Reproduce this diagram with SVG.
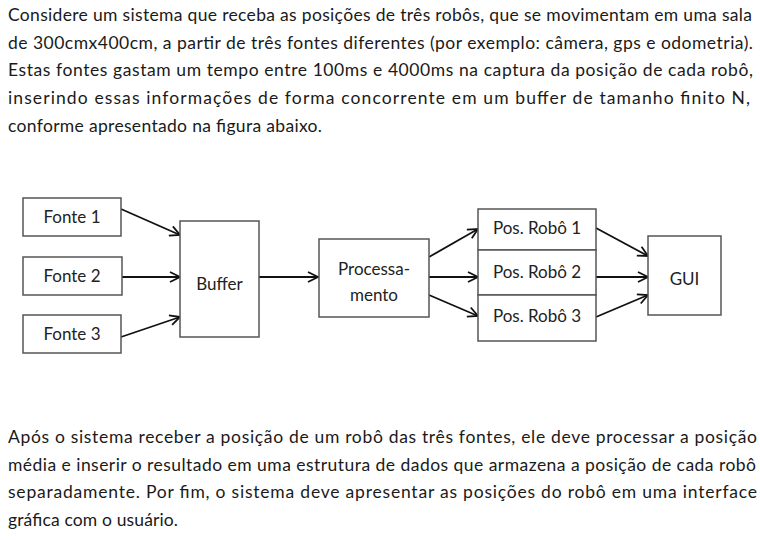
<svg xmlns="http://www.w3.org/2000/svg" width="760" height="540" viewBox="0 0 760 540">
<defs>
<style>
.p{font-family:Lato,"Open Sans","Liberation Sans",sans-serif;font-size:17.5px;fill:#1a1a1a}
.lbl{font-family:Lato,"Open Sans","Liberation Sans",sans-serif;font-size:17px;fill:#222;text-anchor:middle}
.box{fill:#fff;stroke:#555;stroke-width:1.5}
.cn{stroke:#111;stroke-width:1.8;fill:none;marker-end:url(#ah)}
</style>
<marker id="ah" viewBox="0 0 12 12" refX="11" refY="6" markerWidth="12" markerHeight="12" markerUnits="userSpaceOnUse" orient="auto">
<path d="M1,1 L11,6 L1,11" fill="none" stroke="#111" stroke-width="1.8"/>
</marker>
</defs>
<rect width="760" height="540" fill="#fff"/>
<g id="text-top">
<text class="p" x="8" y="21" textLength="744" lengthAdjust="spacing">Considere um sistema que receba as posições de três robôs, que se movimentam em uma sala</text>
<text class="p" x="8" y="49" textLength="745" lengthAdjust="spacing">de 300cmx400cm, a partir de três fontes diferentes (por exemplo: câmera, gps e odometria).</text>
<text class="p" x="8" y="76" textLength="745" lengthAdjust="spacing">Estas fontes gastam um tempo entre 100ms e 4000ms na captura da posição de cada robô,</text>
<text class="p" x="8" y="104" textLength="742" lengthAdjust="spacing">inserindo essas informações de forma concorrente em um buffer de tamanho finito N,</text>
<text class="p" x="8" y="132" textLength="314" lengthAdjust="spacing">conforme apresentado na figura abaixo.</text>
</g>
<g id="connectors">
<line class="cn" x1="121" y1="209" x2="180" y2="235"/>
<line class="cn" x1="122" y1="277" x2="180" y2="277"/>
<line class="cn" x1="121" y1="337" x2="180" y2="317"/>
<line class="cn" x1="259" y1="277" x2="318" y2="277"/>
<line class="cn" x1="429" y1="257" x2="478" y2="229"/>
<line class="cn" x1="429" y1="277" x2="478" y2="277"/>
<line class="cn" x1="429" y1="295" x2="478" y2="316"/>
<line class="cn" x1="596" y1="228" x2="648" y2="256"/>
<line class="cn" x1="596" y1="277" x2="648" y2="277"/>
<line class="cn" x1="596" y1="317" x2="648" y2="295"/>
</g>
<g id="fonte1"><rect class="box" x="23" y="198" width="98" height="38"/><text class="lbl" x="72" y="223">Fonte 1</text></g>
<g id="fonte2"><rect class="box" x="23" y="257" width="99" height="38"/><text class="lbl" x="72" y="282">Fonte 2</text></g>
<g id="fonte3"><rect class="box" x="23" y="315" width="98" height="38"/><text class="lbl" x="72" y="340">Fonte 3</text></g>
<g id="buffer"><rect class="box" x="180" y="221" width="79" height="116"/><text class="lbl" x="219.5" y="290">Buffer</text></g>
<g id="processamento"><rect class="box" x="319" y="239" width="110" height="78"/><text class="lbl" x="374" y="275">Processa-</text><text class="lbl" x="374" y="301">mento</text></g>
<g id="posrobo1"><rect class="box" x="478" y="209" width="118" height="41"/><text class="lbl" x="537" y="234">Pos. Robô 1</text></g>
<g id="posrobo2"><rect class="box" x="478" y="250" width="118" height="45"/><text class="lbl" x="537" y="278">Pos. Robô 2</text></g>
<g id="posrobo3"><rect class="box" x="478" y="295" width="118" height="46"/><text class="lbl" x="537" y="322">Pos. Robô 3</text></g>
<g id="gui"><rect class="box" x="648" y="236" width="73" height="79"/><text class="lbl" x="684.5" y="285">GUI</text></g>
<g id="text-bottom">
<text class="p" x="8" y="443" textLength="749" lengthAdjust="spacing">Após o sistema receber a posição de um robô das três fontes, ele deve processar a posição</text>
<text class="p" x="8" y="471" textLength="748" lengthAdjust="spacing">média e inserir o resultado em uma estrutura de dados que armazena a posição de cada robô</text>
<text class="p" x="8" y="498" textLength="749" lengthAdjust="spacing">separadamente. Por fim, o sistema deve apresentar as posições do robô em uma interface</text>
<text class="p" x="8" y="526" textLength="170" lengthAdjust="spacing">gráfica com o usuário.</text>
</g>
</svg>
